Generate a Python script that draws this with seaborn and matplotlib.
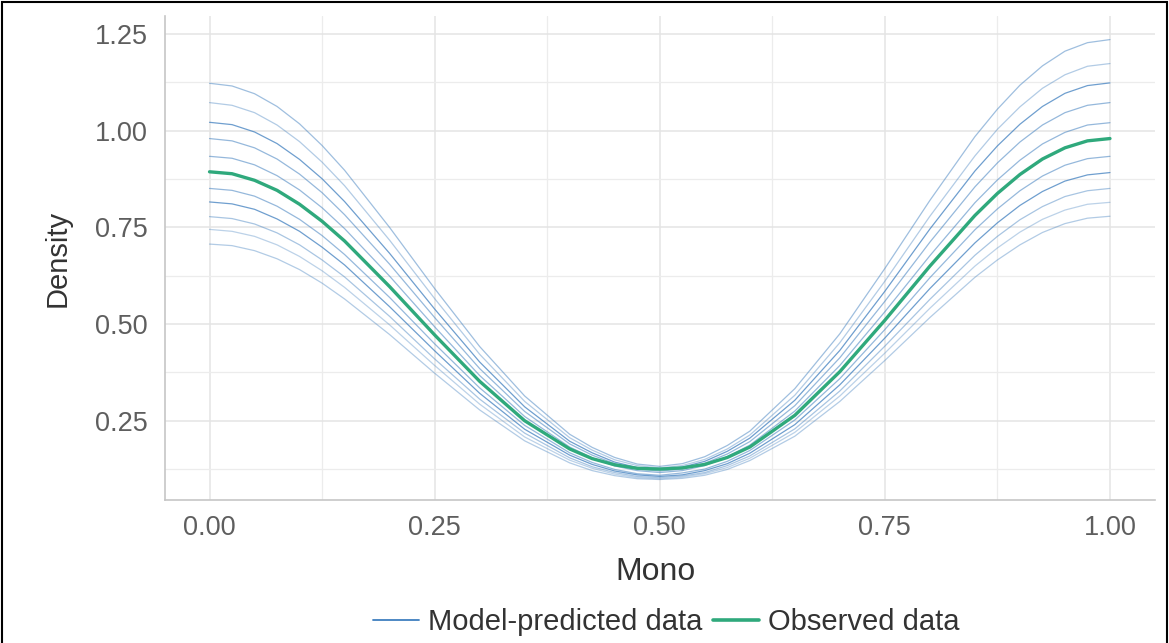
import matplotlib
matplotlib.use("Agg")
import matplotlib.pyplot as plt
import seaborn as sns
import pandas as pd
from matplotlib.lines import Line2D
from matplotlib.patches import Rectangle
from matplotlib.ticker import MultipleLocator, FormatStrFormatter

# ---------------- data ----------------
mono = [0.000, 0.025, 0.050, 0.075, 0.100, 0.125, 0.150, 0.200, 0.250, 0.300, 0.350,
        0.400, 0.425, 0.450, 0.475, 0.500, 0.525, 0.550, 0.575, 0.600, 0.650,
        0.700, 0.750, 0.800, 0.850, 0.875, 0.900, 0.925, 0.950, 0.975, 1.000]

observed = [0.894, 0.889, 0.872, 0.846, 0.810, 0.766, 0.715, 0.597, 0.472, 0.352, 0.250,
            0.177, 0.152, 0.136, 0.127, 0.125, 0.128, 0.137, 0.155, 0.182, 0.264,
            0.377, 0.510, 0.650, 0.781, 0.838, 0.887, 0.927, 0.956, 0.974, 0.980]

yrep_01 = [1.123, 1.116, 1.096, 1.063, 1.018, 0.962, 0.898, 0.750, 0.592, 0.442, 0.314,
           0.215, 0.181, 0.155, 0.138, 0.132, 0.139, 0.157, 0.186, 0.223, 0.333,
           0.475, 0.644, 0.820, 0.985, 1.056, 1.118, 1.168, 1.206, 1.228, 1.236]
yrep_02 = [1.073, 1.066, 1.047, 1.015, 0.972, 0.919, 0.858, 0.717, 0.566, 0.422, 0.300,
           0.206, 0.174, 0.149, 0.134, 0.128, 0.134, 0.150, 0.177, 0.213, 0.316,
           0.452, 0.611, 0.779, 0.935, 1.004, 1.062, 1.110, 1.145, 1.167, 1.174]
yrep_03 = [1.022, 1.016, 0.997, 0.967, 0.926, 0.876, 0.817, 0.683, 0.539, 0.402, 0.286,
           0.197, 0.167, 0.143, 0.129, 0.124, 0.130, 0.145, 0.171, 0.205, 0.303,
           0.432, 0.585, 0.746, 0.896, 0.961, 1.017, 1.063, 1.097, 1.117, 1.124]
yrep_04 = [0.980, 0.974, 0.956, 0.927, 0.888, 0.840, 0.783, 0.655, 0.517, 0.385, 0.274,
           0.190, 0.161, 0.139, 0.125, 0.120, 0.125, 0.140, 0.164, 0.196, 0.289,
           0.413, 0.559, 0.712, 0.855, 0.917, 0.971, 1.015, 1.047, 1.066, 1.073]
yrep_05 = [0.934, 0.929, 0.912, 0.884, 0.847, 0.801, 0.747, 0.624, 0.493, 0.367, 0.261,
           0.182, 0.154, 0.133, 0.121, 0.116, 0.121, 0.134, 0.157, 0.187, 0.275,
           0.393, 0.532, 0.677, 0.814, 0.873, 0.924, 0.966, 0.996, 1.015, 1.021]
yrep_06 = [0.851, 0.846, 0.831, 0.805, 0.771, 0.729, 0.680, 0.569, 0.449, 0.335, 0.238,
           0.167, 0.142, 0.124, 0.113, 0.109, 0.115, 0.125, 0.145, 0.173, 0.252,
           0.359, 0.486, 0.620, 0.744, 0.798, 0.845, 0.883, 0.911, 0.928, 0.934]
yrep_07 = [0.816, 0.811, 0.797, 0.772, 0.740, 0.699, 0.653, 0.545, 0.431, 0.321, 0.228,
           0.161, 0.137, 0.120, 0.110, 0.106, 0.110, 0.121, 0.139, 0.166, 0.240,
           0.343, 0.464, 0.592, 0.710, 0.762, 0.807, 0.843, 0.870, 0.886, 0.892]
yrep_08 = [0.778, 0.773, 0.759, 0.736, 0.705, 0.666, 0.622, 0.520, 0.410, 0.306, 0.218,
           0.154, 0.131, 0.116, 0.106, 0.103, 0.107, 0.116, 0.134, 0.159, 0.229,
           0.327, 0.443, 0.564, 0.678, 0.727, 0.770, 0.804, 0.830, 0.845, 0.851]
yrep_09 = [0.745, 0.740, 0.727, 0.705, 0.675, 0.638, 0.595, 0.498, 0.393, 0.293, 0.208,
           0.148, 0.127, 0.112, 0.103, 0.100, 0.104, 0.113, 0.129, 0.153, 0.220,
           0.314, 0.425, 0.541, 0.650, 0.697, 0.738, 0.771, 0.795, 0.810, 0.815]
yrep_10 = [0.707, 0.703, 0.690, 0.669, 0.641, 0.606, 0.565, 0.473, 0.373, 0.278, 0.198,
           0.141, 0.121, 0.108, 0.100, 0.098, 0.101, 0.109, 0.124, 0.147, 0.210,
           0.300, 0.406, 0.517, 0.621, 0.666, 0.705, 0.737, 0.760, 0.774, 0.779]

yrep_draws = [yrep_01, yrep_02, yrep_03, yrep_04, yrep_05,
              yrep_06, yrep_07, yrep_08, yrep_09, yrep_10]

x_ticks = [0.00, 0.25, 0.50, 0.75, 1.00]
y_ticks = [0.25, 0.50, 0.75, 1.00, 1.25]
legend_labels = ["Model-predicted data", "Observed data"]

# ---------------- style ----------------
BLUE = "#3f7fbf"
GREEN = "#2fa97c"
draw_alpha = [0.50, 0.40, 0.75, 0.55, 0.55, 0.55, 0.75, 0.45, 0.35, 0.40]

sns.set_theme(style="white")
plt.rcParams["font.family"] = ["Liberation Sans", "DejaVu Sans"]

fig = plt.figure(figsize=(11.69, 6.43), dpi=100)
ax = fig.add_axes([164.5 / 1169, 1 - 500 / 643, 990.5 / 1169, 484 / 643])

long = pd.DataFrame({
    "Mono": mono * len(yrep_draws),
    "Density": [v for d in yrep_draws for v in d],
    "draw": [i for i, d in enumerate(yrep_draws) for _ in d],
})
for i in range(len(yrep_draws)):
    sns.lineplot(data=long[long["draw"] == i], x="Mono", y="Density", ax=ax,
                 color=BLUE, alpha=draw_alpha[i], linewidth=0.9,
                 errorbar=None, legend=False)
sns.lineplot(x=mono, y=observed, ax=ax, color=GREEN, linewidth=2.4,
             errorbar=None, legend=False)
for ln in ax.lines:
    ln.set_solid_joinstyle("round")

ax.set_xlim(-0.05, 1.05)
ax.set_ylim(0.045, 1.297)
ax.set_xticks(x_ticks)
ax.set_yticks(y_ticks)
ax.xaxis.set_minor_locator(MultipleLocator(0.125))
ax.yaxis.set_minor_locator(MultipleLocator(0.125))
ax.xaxis.set_major_formatter(FormatStrFormatter("%.2f"))
ax.yaxis.set_major_formatter(FormatStrFormatter("%.2f"))
ax.set_axisbelow(True)
ax.grid(which="major", color="#e4e4e4", linewidth=1.1)
ax.grid(which="minor", color="#ececec", linewidth=0.9)
ax.tick_params(which="both", length=0, labelsize=19.5, labelcolor="#5e5e5e")
ax.tick_params(axis="y", pad=12)
ax.tick_params(axis="x", pad=11)
for s in ["top", "right"]:
    ax.spines[s].set_visible(False)
for s in ["left", "bottom"]:
    ax.spines[s].set_color("#c6c6c6")
    ax.spines[s].set_linewidth(1.2)

ax.set_xlabel("Mono", fontsize=23, color="#333333")
ax.set_ylabel("Density", fontsize=21, color="#333333")
ax.xaxis.label.set_va("center")
ax.yaxis.label.set_va("center")
ax.xaxis.set_label_coords((656 - 164.5) / 990.5, (500 - 572) / 484)
ax.yaxis.set_label_coords((58 - 164.5) / 990.5, 0.5)

handles = [Line2D([0], [0], color=BLUE, lw=1.3),
           Line2D([0], [0], color=GREEN, lw=2.6)]
leg = fig.legend(handles, legend_labels, loc="center",
                 bbox_to_anchor=(666 / 1169, 1 - 622 / 643), ncol=2, frameon=False,
                 fontsize=21, handlelength=1.6, handletextpad=0.3, columnspacing=0.35)
for t in leg.get_texts():
    t.set_color("#333333")

fig.add_artist(Rectangle((2 / 1169, -0.02), 1165 / 1169, 1.02 - 2 / 643,
                         transform=fig.transFigure, fill=False,
                         edgecolor="black", linewidth=1.5))

fig.savefig("out.png", dpi=100)
